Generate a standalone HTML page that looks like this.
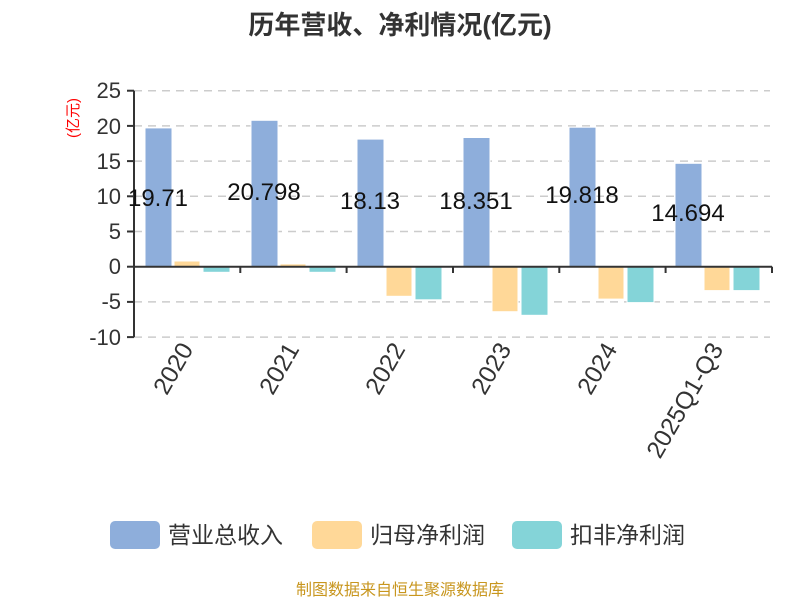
<!DOCTYPE html>
<html><head><meta charset="utf-8"><style>
body{margin:0;background:#fff;}
svg text{font-family:"Liberation Sans","Noto Sans CJK SC",sans-serif;}
</style></head><body>
<svg width="800" height="600" xmlns="http://www.w3.org/2000/svg">
<text x="400" y="34" text-anchor="middle" font-size="26" font-weight="bold" fill="#333">历年营收、净利情况(亿元)</text>
<g stroke="#ccc" stroke-dasharray="8,6" stroke-width="1.5">
<line x1="134" x2="770" y1="90.7" y2="90.7"/>
<line x1="134" x2="770" y1="125.9" y2="125.9"/>
<line x1="134" x2="770" y1="161.1" y2="161.1"/>
<line x1="134" x2="770" y1="196.3" y2="196.3"/>
<line x1="134" x2="770" y1="231.5" y2="231.5"/>
<line x1="134" x2="770" y1="301.9" y2="301.9"/>
<line x1="134" x2="770" y1="337.1" y2="337.1"/>
</g>
<g font-size="22" fill="#333" text-anchor="end">
<text x="121" y="98">25</text><text x="121" y="134">20</text><text x="121" y="169">15</text>
<text x="121" y="204">10</text><text x="121" y="239">5</text><text x="121" y="274">0</text>
<text x="121" y="309">-5</text><text x="121" y="345">-10</text>
</g>
<g stroke="#333" stroke-width="2">
<line x1="134" x2="134" y1="90.7" y2="337.1"/>
<line x1="127" x2="134" y1="90.7" y2="90.7"/><line x1="127" x2="134" y1="125.9" y2="125.9"/>
<line x1="127" x2="134" y1="161.1" y2="161.1"/><line x1="127" x2="134" y1="196.3" y2="196.3"/>
<line x1="127" x2="134" y1="231.5" y2="231.5"/><line x1="127" x2="134" y1="266.7" y2="266.7"/>
<line x1="127" x2="134" y1="301.9" y2="301.9"/><line x1="127" x2="134" y1="337.1" y2="337.1"/>
</g>
<text transform="translate(78,118) rotate(-90)" font-size="15" fill="red" text-anchor="middle">(亿元)</text>
<g stroke="#fff" stroke-width="1">
<rect x="145" y="127.9" width="27" height="138.8" fill="#8eaedb"/>
<rect x="174" y="261" width="26" height="5.7" fill="#ffd898"/>
<rect x="203" y="266.7" width="27" height="5.6" fill="#84d4d8"/>
<rect x="251" y="120.3" width="27" height="146.4" fill="#8eaedb"/>
<rect x="280" y="263.9" width="26" height="2.8" fill="#ffd898"/>
<rect x="309" y="266.7" width="27" height="5.6" fill="#84d4d8"/>
<rect x="357" y="139.1" width="27" height="127.6" fill="#8eaedb"/>
<rect x="386" y="266.7" width="26" height="29.6" fill="#ffd898"/>
<rect x="415" y="266.7" width="27" height="33.1" fill="#84d4d8"/>
<rect x="463" y="137.5" width="27" height="129.2" fill="#8eaedb"/>
<rect x="492" y="266.7" width="26" height="45" fill="#ffd898"/>
<rect x="521" y="266.7" width="27" height="48.6" fill="#84d4d8"/>
<rect x="569" y="127.2" width="27" height="139.5" fill="#8eaedb"/>
<rect x="598" y="266.7" width="26" height="32.4" fill="#ffd898"/>
<rect x="627" y="266.7" width="27" height="35.9" fill="#84d4d8"/>
<rect x="675" y="163.3" width="27" height="103.4" fill="#8eaedb"/>
<rect x="704" y="266.7" width="26" height="23.9" fill="#ffd898"/>
<rect x="733" y="266.7" width="27" height="23.9" fill="#84d4d8"/>
</g>
<g stroke="#333" stroke-width="2">
<line x1="134" x2="772" y1="266.7" y2="266.7"/>
<line x1="240.3" x2="240.3" y1="266.7" y2="273"/><line x1="346.6" x2="346.6" y1="266.7" y2="273"/>
<line x1="453" x2="453" y1="266.7" y2="273"/><line x1="559.3" x2="559.3" y1="266.7" y2="273"/>
<line x1="665.6" x2="665.6" y1="266.7" y2="273"/><line x1="772" x2="772" y1="266.7" y2="273"/>
</g>
<g font-size="24" fill="#111" text-anchor="middle">
<text x="158" y="206">19.71</text><text x="264" y="200">20.798</text>
<text x="370" y="209">18.13</text><text x="476" y="209">18.351</text>
<text x="582" y="203">19.818</text><text x="688" y="221">14.694</text>
</g>
<g font-size="24.5" fill="#333" text-anchor="end">
<text transform="translate(194,349) rotate(-60)">2020</text>
<text transform="translate(300,349) rotate(-60)">2021</text>
<text transform="translate(406,349) rotate(-60)">2022</text>
<text transform="translate(512,349) rotate(-60)">2023</text>
<text transform="translate(618,349) rotate(-60)">2024</text>
<text transform="translate(724,349) rotate(-60)">2025Q1-Q3</text>
</g>
<rect x="110" y="521" width="50" height="28" rx="5" fill="#8eaedb"/>
<text x="168" y="543" font-size="23" fill="#333">营业总收入</text>
<rect x="312" y="521" width="50" height="28" rx="5" fill="#ffd898"/>
<text x="370" y="543" font-size="23" fill="#333">归母净利润</text>
<rect x="512" y="521" width="50" height="28" rx="5" fill="#84d4d8"/>
<text x="570" y="543" font-size="23" fill="#333">扣非净利润</text>
<text x="400" y="595" text-anchor="middle" font-size="16" fill="#c8961e">制图数据来自恒生聚源数据库</text>
</svg>
</body></html>
